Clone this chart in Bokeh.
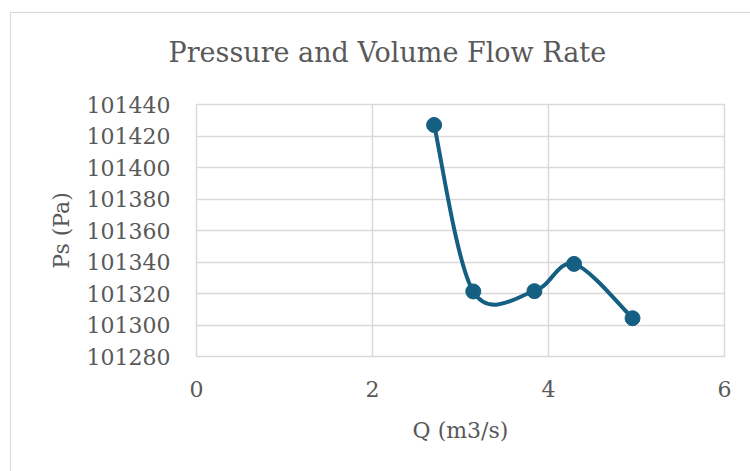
from bokeh.plotting import figure
from bokeh.models import FixedTicker, BasicTickFormatter, Title
from bokeh.embed import file_html
from bokeh.resources import INLINE

# Data
q_values = [2.70, 3.145, 3.84, 4.29, 4.955]          # Q (m3/s)
ps_values = [101427.0, 101321.3, 101321.5, 101338.8, 101304.3]  # Ps (Pa)
x_ticks = [0, 2, 4, 6]
y_ticks = [101280, 101300, 101320, 101340, 101360, 101380, 101400, 101420, 101440]

title_text = "Pressure and Volume Flow Rate"
x_label = "Q (m3/s)"
y_label = "Ps (Pa)"

LINE = "#156082"
TXT = "#595959"
GRID = "#d9d9d9"
FONT = "DejaVu Serif"

p = figure(width=740, height=459, output_backend="svg", toolbar_location=None,
           x_range=(x_ticks[0], x_ticks[-1]), y_range=(y_ticks[0], y_ticks[-1]),
           min_border_left=185, min_border_right=27, min_border_top=91, min_border_bottom=116,
           margin=(12, 0, 0, 10))
p.styles = {"border-left": "1px solid #d9d9d9", "border-top": "1px solid #d9d9d9"}
p.background_fill_color = "white"
p.border_fill_color = "white"
p.outline_line_color = GRID
p.outline_line_width = 1.5

# a thin empty spacer panel between the frame and the title
spacer = Title(text=" ", text_font_size="1px", standoff=13)
p.add_layout(spacer, "above")
t = Title(text=title_text, align="left", offset=-28, standoff=42,
          text_font=FONT, text_font_size="27px", text_font_style="normal", text_color=TXT)
p.add_layout(t, "above")

# Smooth curve (Catmull-Rom style Bezier as used by spreadsheet smoothing)
n = len(q_values)
x0, y0, x1, y1, cx0, cy0, cx1, cy1 = [], [], [], [], [], [], [], []
for i in range(n - 1):
    xm = q_values[max(i - 1, 0)]
    ym = ps_values[max(i - 1, 0)]
    xa, ya = q_values[i], ps_values[i]
    xb, yb = q_values[i + 1], ps_values[i + 1]
    xp = q_values[min(i + 2, n - 1)]
    yp = ps_values[min(i + 2, n - 1)]
    x0.append(xa); y0.append(ya); x1.append(xb); y1.append(yb)
    cx0.append(xa + (xb - xm) / 6.0); cy0.append(ya + (yb - ym) / 6.0)
    cx1.append(xb - (xp - xa) / 6.0); cy1.append(yb - (yp - ya) / 6.0)

p.bezier(x0=x0, y0=y0, x1=x1, y1=y1, cx0=cx0, cy0=cy0, cx1=cx1, cy1=cy1,
         line_color=LINE, line_width=4)
p.scatter(q_values, ps_values, size=15, fill_color=LINE, line_color=LINE)

p.xaxis.ticker = FixedTicker(ticks=x_ticks)
p.yaxis.ticker = FixedTicker(ticks=y_ticks)
p.yaxis.formatter = BasicTickFormatter(use_scientific=False)

for ax in (p.xaxis[0], p.yaxis[0]):
    ax.axis_line_color = None
    ax.major_tick_line_color = None
    ax.minor_tick_line_color = None
    ax.major_tick_out = 0
    ax.major_tick_in = 0
    ax.minor_tick_out = 0
    ax.major_label_text_font = FONT
    ax.major_label_text_font_size = "22px"
    ax.major_label_text_color = TXT
    ax.axis_label_text_font = FONT
    ax.axis_label_text_font_size = "22px"
    ax.axis_label_text_font_style = "normal"
    ax.axis_label_text_color = TXT

p.xaxis.axis_label = x_label
p.yaxis.axis_label = y_label
p.xaxis.major_label_standoff = 24
p.yaxis.major_label_standoff = 26
p.xaxis.axis_label_standoff = 18
p.yaxis.axis_label_standoff = 10

p.xgrid.grid_line_color = GRID
p.ygrid.grid_line_color = GRID
p.xgrid.grid_line_width = 1.5
p.ygrid.grid_line_width = 1.5

open("out.html", "w").write(file_html(p, INLINE))
